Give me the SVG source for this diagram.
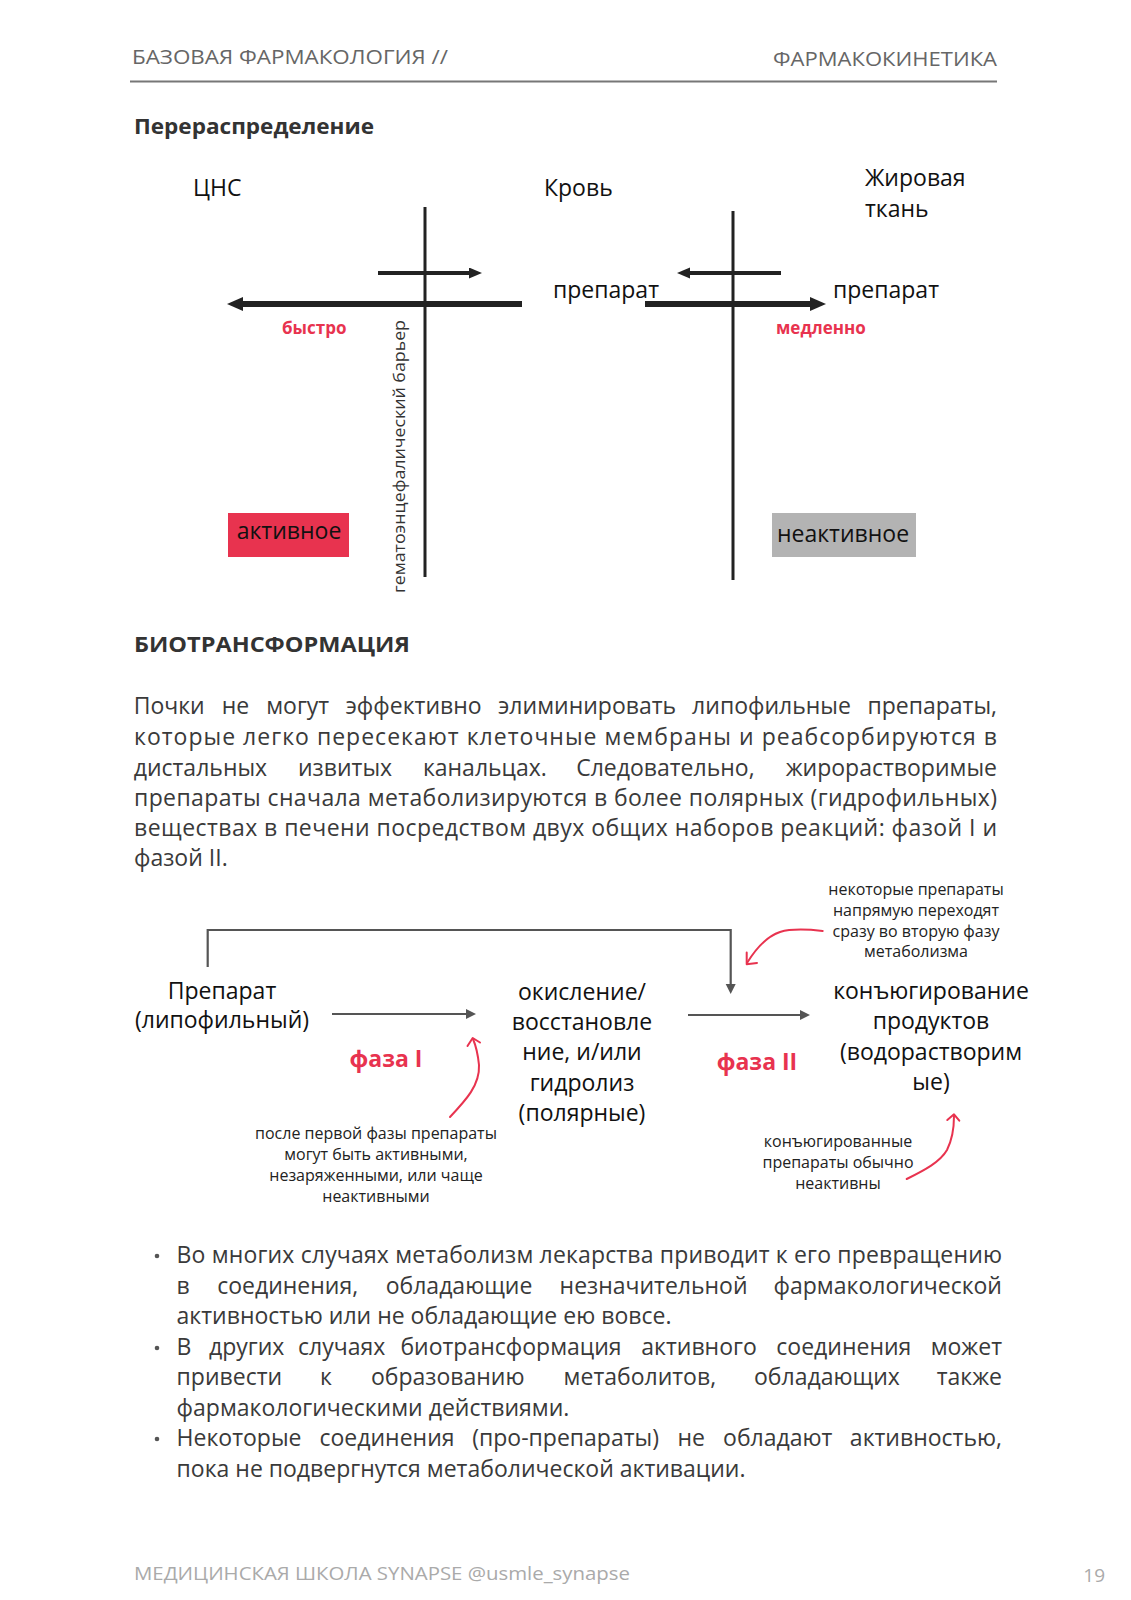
<svg xmlns="http://www.w3.org/2000/svg" width="1131" height="1600" viewBox="0 0 1131 1600">
<style>
text{font-family:"Open Sans","Noto Sans","DejaVu Sans",sans-serif}
.hdr{font-size:20px;fill:#666}
.h2{font-size:22px;font-weight:700;fill:#333}
.body{font-size:23px;fill:#3a3a3a}
.lbl{font-size:23px;fill:#111}
.red{fill:#e8334f;font-weight:700}
.cap{font-size:16px;fill:#222;text-anchor:middle}
.mid{text-anchor:middle}
.end{text-anchor:end}
.bar{stroke:#222;stroke-width:3;fill:none}
.thin{stroke:#222;stroke-width:4;fill:none}
.thick{stroke:#222;stroke-width:6;fill:none}
.gl{stroke:#555;stroke-width:2.2;fill:none}
.rc{stroke:#e8334f;stroke-width:2;fill:none;stroke-linecap:round;stroke-linejoin:round}
.foot{font-size:19px;fill:#aaa}
</style>
<defs>
<marker id="hb" markerUnits="userSpaceOnUse" markerWidth="18" markerHeight="16" refX="0" refY="7" orient="auto"><path d="M0,0 L16,7 L0,14 z" fill="#222"/></marker>
<marker id="hs" markerUnits="userSpaceOnUse" markerWidth="14" markerHeight="12" refX="0" refY="5.5" orient="auto"><path d="M0,0 L13,5.5 L0,11 z" fill="#222"/></marker>
<marker id="hg" markerUnits="userSpaceOnUse" markerWidth="12" markerHeight="12" refX="0" refY="5" orient="auto"><path d="M0,0 L10,5 L0,10 z" fill="#555"/></marker>
</defs>
<rect width="1131" height="1600" fill="#fff"/>

<g id="header">
<text class="hdr" x="132" y="64" textLength="316" lengthAdjust="spacingAndGlyphs">БАЗОВАЯ ФАРМАКОЛОГИЯ  //</text>
<text class="hdr" x="997" y="66" text-anchor="end" textLength="224" lengthAdjust="spacingAndGlyphs">ФАРМАКОКИНЕТИКА</text>
<line x1="130" y1="81.5" x2="997" y2="81.5" stroke="#777" stroke-width="2"/>
</g>

<text id="title-redistribution" class="h2" x="134" y="134" textLength="240" lengthAdjust="spacingAndGlyphs">Перераспределение</text>

<g id="redistribution">
<g id="cns"><text class="lbl" x="193" y="196" font-size="25">ЦНС</text></g>
<g id="blood"><text class="lbl" x="544" y="196">Кровь</text></g>
<g id="fat"><text class="lbl" x="865" y="186">Жировая</text><text class="lbl" x="865" y="217">ткань</text></g>
<g id="drug-blood"><text class="lbl" x="553" y="298">препарат</text></g>
<g id="drug-fat"><text class="lbl" x="833" y="298">препарат</text></g>
<g id="fast"><text class="red" x="282" y="334" font-size="17">быстро</text></g>
<g id="slow"><text class="red" x="776" y="334" font-size="17">медленно</text></g>
<g id="bbb"><text x="0" y="0" transform="translate(405,593) rotate(-90)" font-size="17" fill="#333" textLength="273" lengthAdjust="spacingAndGlyphs">гематоэнцефалический барьер</text></g>
<g id="active"><rect x="228" y="513" width="121" height="44" fill="#e8334f"/><text class="lbl mid" x="289" y="539">активное</text></g>
<g id="inactive"><rect x="772" y="513" width="144" height="44" fill="#b3b3b3"/><text class="lbl mid" x="843" y="542">неактивное</text></g>
</g>

<g id="connectors-redistribution">
<line class="bar" x1="425" y1="207" x2="425" y2="577"/>
<line class="bar" x1="733" y1="211" x2="733" y2="580"/>
<line class="thin" x1="378" y1="273" x2="469" y2="273" marker-end="url(#hs)"/>
<line class="thick" x1="522" y1="304" x2="243" y2="304" marker-end="url(#hb)"/>
<line class="thin" x1="781" y1="273" x2="690" y2="273" marker-end="url(#hs)"/>
<line class="thick" x1="645" y1="304" x2="810" y2="304" marker-end="url(#hb)"/>
</g>

<text id="title-bio" class="h2" x="134" y="652" textLength="276" lengthAdjust="spacingAndGlyphs">БИОТРАНСФОРМАЦИЯ</text>

<g id="paragraph" class="body">
<text y="714"><tspan x="133.7">Почки</tspan><tspan x="221.8">не</tspan><tspan x="266.2">могут</tspan><tspan x="345.5">эффективно</tspan><tspan x="498">элиминировать</tspan><tspan x="692.1">липофильные</tspan></text>
<text class="body end" x="997" y="714">препараты,</text>
<text x="134" y="745" textLength="863" lengthAdjust="spacing">которые легко пересекают клеточные мембраны и реабсорбируются в</text>
<text y="776"><tspan x="133.7">дистальных</tspan><tspan x="298">извитых</tspan><tspan x="422.9">канальцах.</tspan><tspan x="576.2">Следовательно,</tspan></text>
<text class="body end" x="997" y="776">жирорастворимые</text>
<text x="134" y="806" textLength="863" lengthAdjust="spacing">препараты сначала метаболизируются в более полярных (гидрофильных)</text>
<text x="134" y="836" textLength="863" lengthAdjust="spacing">веществах в печени посредством двух общих наборов реакций: фазой I и</text>
<text x="134" y="866">фазой II.</text>
</g>

<g id="drug-lipo"><text class="lbl mid" x="222" y="999" font-size="22">Препарат</text><text class="lbl mid" x="222" y="1028" font-size="22">(липофильный)</text></g>
<g id="phase1-products"><text class="lbl mid" x="582" y="1000">окисление/</text><text class="lbl mid" x="582" y="1030">восстановле</text><text class="lbl mid" x="582" y="1060">ние, и/или</text><text class="lbl mid" x="582" y="1091">гидролиз</text><text class="lbl mid" x="582" y="1121">(полярные)</text></g>
<g id="conjugation"><text class="lbl mid" x="931" y="999">конъюгирование</text><text class="lbl mid" x="931" y="1029">продуктов</text><text class="lbl mid" x="931" y="1060">(водорастворим</text><text class="lbl mid" x="931" y="1090">ые)</text></g>
<g id="phase1"><text class="red mid" x="386" y="1067" font-size="23">фаза I</text></g>
<g id="phase2"><text class="red mid" x="757" y="1070" font-size="23">фаза II</text></g>
<g id="note-direct"><text class="cap" x="916" y="895">некоторые препараты</text><text class="cap" x="916" y="916">напрямую переходят</text><text class="cap" x="916" y="937">сразу во вторую фазу</text><text class="cap" x="916" y="957">метаболизма</text></g>
<g id="note-phase1"><text class="cap" x="376" y="1139">после первой фазы препараты</text><text class="cap" x="376" y="1160">могут быть активными,</text><text class="cap" x="376" y="1181">незаряженными, или чаще</text><text class="cap" x="376" y="1202">неактивными</text></g>
<g id="note-conj"><text class="cap" x="838" y="1147">конъюгированные</text><text class="cap" x="838" y="1168">препараты обычно</text><text class="cap" x="838" y="1189">неактивны</text></g>

<g id="connectors-biotransformation">
<line class="gl" x1="332" y1="1014" x2="466" y2="1014" marker-end="url(#hg)"/>
<line class="gl" x1="688" y1="1015" x2="800" y2="1015" marker-end="url(#hg)"/>
<path class="gl" d="M207.7,967 V930 H730.7 V984" marker-end="url(#hg)"/>
<path class="rc" d="M450,1117 C466,1100 480,1085 479,1065 C478,1055 476,1046 473,1039"/>
<path class="rc" d="M467.5,1046 L472.7,1038 L480,1042.5"/>
<path class="rc" d="M822.7,931 C805,929 790,929 780,932 C765,937 755,950 747,963"/>
<path class="rc" d="M746.7,952.5 L746.7,964.3 L757,963"/>
<path class="rc" d="M906.7,1179 C925,1170 940,1162 947,1150 C953,1138 954,1128 954,1116"/>
<path class="rc" d="M947.3,1120 L954,1114.3 L959.3,1120.7"/>
</g>

<g id="bullets" class="body">
<circle cx="157" cy="1256" r="2.3" fill="#555"/>
<circle cx="157" cy="1348" r="2.3" fill="#555"/>
<circle cx="157" cy="1439" r="2.3" fill="#555"/>
<text x="176.6" y="1263" textLength="825.4" lengthAdjust="spacing">Во многих случаях метаболизм лекарства приводит к его превращению</text>
<text y="1294"><tspan x="176.6">в</tspan><tspan x="217.2">соединения,</tspan><tspan x="385.7">обладающие</tspan><tspan x="559.6">незначительной</tspan></text>
<text class="body end" x="1002" y="1294">фармакологической</text>
<text x="176.6" y="1324">активностью или не обладающие ею вовсе.</text>
<text y="1355"><tspan x="176.6">В</tspan><tspan x="209">других</tspan><tspan x="298.1">случаях</tspan><tspan x="400.4">биотрансформация</tspan><tspan x="641.3">активного</tspan><tspan x="776.3">соединения</tspan></text>
<text class="body end" x="1002" y="1355">может</text>
<text y="1385"><tspan x="176.6">привести</tspan><tspan x="320.1">к</tspan><tspan x="370.9">образованию</tspan><tspan x="563.6">метаболитов,</tspan><tspan x="754">обладающих</tspan></text>
<text class="body end" x="1002" y="1385">также</text>
<text x="176.6" y="1416">фармакологическими действиями.</text>
<text y="1446"><tspan x="176.6">Некоторые</tspan><tspan x="319.5">соединения</tspan><tspan x="472.2">(про-препараты)</tspan><tspan x="677.4">не</tspan><tspan x="723.1">обладают</tspan></text>
<text class="body end" x="1002" y="1446">активностью,</text>
<text x="176.6" y="1477">пока не подвергнутся метаболической активации.</text>
</g>

<g id="footer">
<text class="foot" x="134" y="1580" textLength="496" lengthAdjust="spacingAndGlyphs">МЕДИЦИНСКАЯ ШКОЛА SYNAPSE @usmle_synapse</text>
<text class="foot" x="1105" y="1582" text-anchor="end" font-size="22">19</text>
</g>
</svg>
